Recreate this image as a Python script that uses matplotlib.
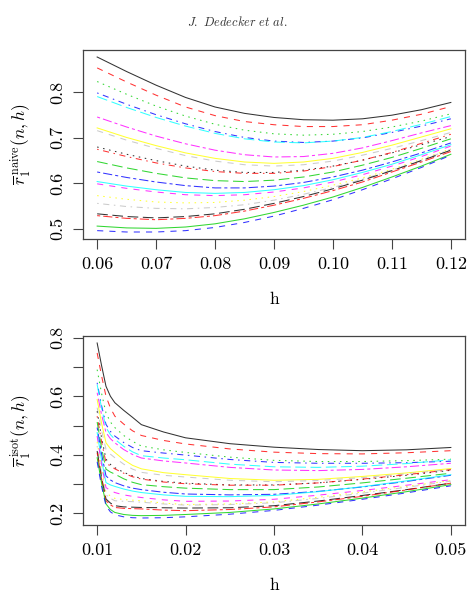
import matplotlib
matplotlib.use("Agg")
import matplotlib.pyplot as plt
import numpy as np

plt.rcParams['mathtext.fontset'] = 'cm'
plt.rcParams['font.family'] = ['cmr10', 'DejaVu Serif']
plt.rcParams['axes.formatter.use_mathtext'] = True
plt.rcParams['lines.scale_dashes'] = False

# ---------------- data ----------------
h_top = [0.06, 0.065, 0.07, 0.075, 0.08, 0.085, 0.09, 0.095, 0.10, 0.105, 0.11, 0.115, 0.12]
r_naive = [
    [0.878, 0.846, 0.816, 0.789, 0.768, 0.754, 0.745, 0.740, 0.739, 0.742, 0.750, 0.762, 0.778],
    [0.854, 0.823, 0.794, 0.768, 0.749, 0.736, 0.729, 0.725, 0.725, 0.729, 0.739, 0.752, 0.769],
    [0.824, 0.796, 0.770, 0.748, 0.730, 0.717, 0.709, 0.706, 0.708, 0.714, 0.724, 0.737, 0.753],
    [0.799, 0.774, 0.751, 0.731, 0.714, 0.701, 0.693, 0.690, 0.693, 0.700, 0.712, 0.726, 0.742],
    [0.791, 0.767, 0.745, 0.726, 0.710, 0.698, 0.691, 0.689, 0.693, 0.701, 0.714, 0.730, 0.747],
    [0.746, 0.724, 0.704, 0.687, 0.673, 0.663, 0.658, 0.659, 0.666, 0.678, 0.694, 0.711, 0.727],
    [0.722, 0.701, 0.683, 0.667, 0.655, 0.647, 0.644, 0.647, 0.655, 0.668, 0.684, 0.702, 0.720],
    [0.716, 0.695, 0.677, 0.661, 0.649, 0.641, 0.638, 0.641, 0.649, 0.662, 0.677, 0.694, 0.712],
    [0.680, 0.664, 0.650, 0.638, 0.629, 0.624, 0.624, 0.629, 0.638, 0.651, 0.667, 0.685, 0.703],
    [0.675, 0.659, 0.645, 0.634, 0.626, 0.622, 0.622, 0.627, 0.637, 0.651, 0.668, 0.688, 0.708],
    [0.648, 0.634, 0.622, 0.612, 0.606, 0.604, 0.607, 0.614, 0.625, 0.640, 0.657, 0.677, 0.698],
    [0.625, 0.613, 0.603, 0.595, 0.590, 0.590, 0.594, 0.602, 0.614, 0.629, 0.647, 0.667, 0.689],
    [0.604, 0.594, 0.586, 0.580, 0.578, 0.580, 0.586, 0.595, 0.608, 0.624, 0.642, 0.663, 0.685],
    [0.599, 0.589, 0.581, 0.575, 0.573, 0.575, 0.581, 0.590, 0.603, 0.619, 0.638, 0.659, 0.682],
    [0.573, 0.565, 0.559, 0.557, 0.558, 0.563, 0.571, 0.582, 0.596, 0.612, 0.631, 0.653, 0.676],
    [0.556, 0.549, 0.545, 0.544, 0.547, 0.553, 0.563, 0.576, 0.591, 0.609, 0.629, 0.651, 0.675],
    [0.533, 0.527, 0.524, 0.527, 0.533, 0.543, 0.556, 0.571, 0.588, 0.607, 0.628, 0.650, 0.673],
    [0.529, 0.523, 0.520, 0.523, 0.529, 0.539, 0.552, 0.567, 0.584, 0.603, 0.625, 0.647, 0.670],
    [0.506, 0.502, 0.501, 0.504, 0.511, 0.522, 0.536, 0.552, 0.570, 0.591, 0.614, 0.638, 0.664],
    [0.496, 0.493, 0.493, 0.496, 0.503, 0.514, 0.528, 0.545, 0.564, 0.586, 0.610, 0.635, 0.662],
]

h_bot = [0.010, 0.0105, 0.011, 0.0115, 0.012, 0.013, 0.014, 0.015, 0.0175, 0.020,
         0.025, 0.030, 0.035, 0.040, 0.045, 0.050]
r_isot = [
    [0.782, 0.705, 0.634, 0.600, 0.578, 0.552, 0.528, 0.503, 0.478, 0.458, 0.438, 0.426, 0.418, 0.414, 0.417, 0.425],
    [0.748, 0.670, 0.600, 0.560, 0.532, 0.505, 0.482, 0.466, 0.449, 0.437, 0.420, 0.409, 0.404, 0.403, 0.407, 0.414],
    [0.691, 0.610, 0.543, 0.512, 0.493, 0.466, 0.446, 0.430, 0.417, 0.408, 0.392, 0.381, 0.377, 0.377, 0.380, 0.385],
    [0.646, 0.568, 0.504, 0.480, 0.464, 0.442, 0.425, 0.414, 0.406, 0.399, 0.384, 0.374, 0.371, 0.371, 0.373, 0.378],
    [0.640, 0.560, 0.493, 0.469, 0.453, 0.429, 0.410, 0.397, 0.389, 0.383, 0.368, 0.359, 0.357, 0.361, 0.370, 0.383],
    [0.612, 0.537, 0.476, 0.455, 0.441, 0.418, 0.401, 0.389, 0.379, 0.372, 0.357, 0.348, 0.346, 0.350, 0.359, 0.371],
    [0.589, 0.508, 0.441, 0.421, 0.408, 0.383, 0.364, 0.352, 0.339, 0.332, 0.319, 0.313, 0.316, 0.326, 0.338, 0.353],
    [0.561, 0.483, 0.419, 0.402, 0.390, 0.368, 0.351, 0.340, 0.330, 0.324, 0.313, 0.308, 0.312, 0.322, 0.335, 0.350],
    [0.549, 0.458, 0.385, 0.367, 0.356, 0.340, 0.328, 0.319, 0.309, 0.303, 0.297, 0.297, 0.304, 0.316, 0.330, 0.347],
    [0.532, 0.445, 0.373, 0.361, 0.352, 0.337, 0.325, 0.317, 0.307, 0.301, 0.296, 0.296, 0.304, 0.317, 0.332, 0.349],
    [0.512, 0.423, 0.351, 0.341, 0.334, 0.318, 0.306, 0.298, 0.291, 0.286, 0.281, 0.281, 0.290, 0.304, 0.320, 0.337],
    [0.493, 0.402, 0.328, 0.314, 0.305, 0.294, 0.286, 0.281, 0.272, 0.266, 0.263, 0.265, 0.275, 0.290, 0.309, 0.330],
    [0.476, 0.381, 0.305, 0.297, 0.292, 0.283, 0.276, 0.271, 0.263, 0.258, 0.257, 0.261, 0.274, 0.291, 0.311, 0.332],
    [0.464, 0.367, 0.288, 0.278, 0.271, 0.263, 0.258, 0.254, 0.246, 0.241, 0.242, 0.248, 0.262, 0.278, 0.296, 0.315],
    [0.444, 0.349, 0.271, 0.259, 0.251, 0.247, 0.245, 0.243, 0.235, 0.230, 0.232, 0.239, 0.255, 0.273, 0.292, 0.312],
    [0.430, 0.338, 0.263, 0.251, 0.243, 0.241, 0.240, 0.238, 0.232, 0.228, 0.230, 0.236, 0.251, 0.269, 0.289, 0.310],
    [0.413, 0.322, 0.249, 0.235, 0.226, 0.222, 0.221, 0.220, 0.219, 0.218, 0.219, 0.226, 0.242, 0.261, 0.281, 0.303],
    [0.407, 0.316, 0.243, 0.229, 0.220, 0.217, 0.216, 0.215, 0.211, 0.209, 0.213, 0.222, 0.239, 0.258, 0.280, 0.303],
    [0.390, 0.303, 0.232, 0.213, 0.203, 0.196, 0.193, 0.192, 0.193, 0.196, 0.203, 0.215, 0.232, 0.252, 0.274, 0.298],
    [0.376, 0.292, 0.226, 0.205, 0.195, 0.188, 0.185, 0.184, 0.185, 0.188, 0.197, 0.210, 0.228, 0.248, 0.270, 0.294],
]

top_xticks = [0.06, 0.07, 0.08, 0.09, 0.10, 0.11, 0.12]
top_xticklabels = ["0.06", "0.07", "0.08", "0.09", "0.10", "0.11", "0.12"]
top_yticks = [0.5, 0.6, 0.7, 0.8]
top_yticklabels = ["0.5", "0.6", "0.7", "0.8"]
bot_xticks = [0.01, 0.02, 0.03, 0.04, 0.05]
bot_xticklabels = ["0.01", "0.02", "0.03", "0.04", "0.05"]
bot_yticks = [0.2, 0.3, 0.4, 0.5, 0.6, 0.7, 0.8]
bot_yticklabels = ["0.2", "", "0.4", "", "0.6", "", "0.8"]

# R-like palette and line types
colors = ["black", "#FF0000", "#00CD00", "#0000FF", "#00FFFF", "#FF00FF", "#FFFF00", "#BEBEBE"]
u = 1.1
ltys = [
    "-",
    (0, (4 * u, 4 * u)),
    (0, (1 * u, 3 * u)),
    (0, (1 * u, 3 * u, 4 * u, 3 * u)),
    (0, (7 * u, 3 * u)),
    (0, (2 * u, 2 * u, 6 * u, 2 * u)),
]

fig = plt.figure(figsize=(4.74, 6.0), dpi=100)

def setup(ax, x, ys, xticks, xtl, yticks, ytl, ylabel):
    for i, y in enumerate(ys):
        ax.plot(x, y, color=colors[i % 8], linestyle=ltys[i % 6], lw=0.75, alpha=0.8)
    xr = max(x) - min(x)
    ax.set_xlim(min(x) - 0.04 * xr, max(x) + 0.04 * xr)
    allv = np.array(ys)
    yr = allv.max() - allv.min()
    ax.set_ylim(allv.min() - 0.04 * yr, allv.max() + 0.04 * yr)
    ax.set_xticks(xticks)
    ax.set_xticklabels(xtl)
    ax.set_yticks(yticks)
    ax.set_yticklabels(ytl, rotation=90, va='center')
    ax.tick_params(direction='out', length=7, width=0.8, labelsize=13, pad=6, color='#444444')
    for s in ax.spines.values():
        s.set_linewidth(0.9)
        s.set_color('#444444')
    ax.set_xlabel("h", fontsize=12.5, labelpad=14)
    ax.set_ylabel(ylabel, fontsize=12.5, labelpad=12)

ax1 = fig.add_axes([83 / 474, 1 - 239 / 600, 382 / 474, 189 / 600])
setup(ax1, h_top, r_naive, top_xticks, top_xticklabels, top_yticks, top_yticklabels,
      r'$\overline{r}_1^{\,\mathrm{naive}}(n,h)$')

ax2 = fig.add_axes([83 / 474, 1 - 525 / 600, 382 / 474, 189 / 600])
setup(ax2, h_bot, r_isot, bot_xticks, bot_xticklabels, bot_yticks, bot_yticklabels,
      r'$\overline{r}_1^{\,\mathrm{isot}}(n,h)$')

fig.text(0.5, 1 - 22 / 600, r'$\mathit{J.\ Dedecker\ et\ al.}$', ha='center', va='center',
         fontsize=9, color='#333333')

fig.savefig("out.png", dpi=100)
